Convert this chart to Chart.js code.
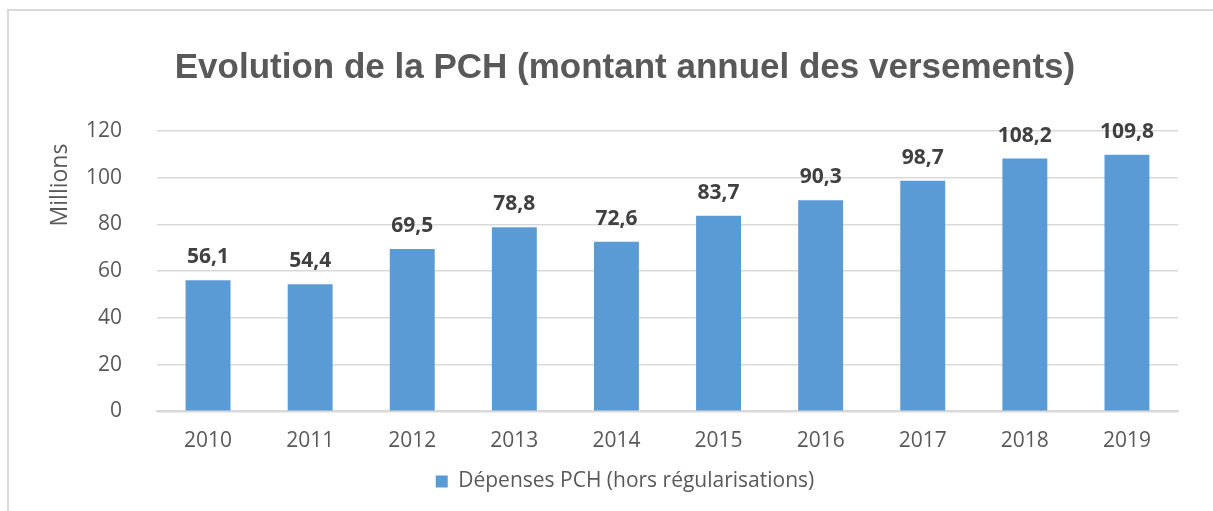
<!DOCTYPE html>
<html>
<head>
<meta charset="utf-8">
<script src="https://cdn.jsdelivr.net/npm/chart.js@4"></script>
<style>
  html, body { margin: 0; padding: 0; background: #fff; }
  #wrap { width: 1213px; height: 511px; }
</style>
</head>
<body>
<div id="wrap"><canvas id="graficoPCH" width="1213" height="511"></canvas></div>
<script>
const annees = ["2010", "2011", "2012", "2013", "2014", "2015", "2016", "2017", "2018", "2019"]
const depensesPCH = [56.1, 54.4, 69.5, 78.8, 72.6, 83.7, 90.3, 98.7, 108.2, 109.8]
const ticksY = [0, 20, 40, 60, 80, 100, 120]

const texteGris = "#595959"
const fontTexte = "'Open Sans', 'Liberation Sans', sans-serif"

// cadre gris autour du graphique
const cadre = {
    id: "cadre",
    beforeDraw(chart) {
        const ctx = chart.ctx
        ctx.save()
        ctx.fillStyle = "#fff"
        ctx.fillRect(0, 0, chart.width, chart.height)
        ctx.strokeStyle = "#d9d9d9"
        ctx.lineWidth = 2
        ctx.strokeRect(8, 10, chart.width + 20, chart.height + 20)
        ctx.restore()
    },
}

// valeurs au-dessus des barres + titre de l'axe Y (placé en haut comme dans Excel)
const etiquettes = {
    id: "etiquettes",
    afterDatasetsDraw(chart) {
        const ctx = chart.ctx
        const meta = chart.getDatasetMeta(0)
        ctx.save()
        ctx.font = "bold 21px " + fontTexte
        ctx.fillStyle = "#404040"
        ctx.textAlign = "center"
        ctx.textBaseline = "middle"
        meta.data.forEach((bar, i) => {
            const texte = depensesPCH[i].toFixed(1).replace(".", ",")
            ctx.fillText(texte, bar.x, bar.y - 23)
        })
        ctx.restore()

        const y = chart.scales.y
        ctx.save()
        ctx.translate(60, y.top + 54)
        ctx.rotate(-Math.PI / 2)
        ctx.font = "23px " + fontTexte
        ctx.fillStyle = texteGris
        ctx.textAlign = "center"
        ctx.textBaseline = "middle"
        ctx.fillText("Millions", 0, 0)
        ctx.restore()
    },
}

const dataGraficoPCH = {
    labels: annees,
    datasets: [
        {
            label: "Dépenses PCH (hors régularisations)",
            backgroundColor: "#5b9bd5",
            data: depensesPCH,
            barPercentage: 0.44,
            categoryPercentage: 1,
        },
    ],
};

const configGraficoPCH = {
    type: "bar",
    data: dataGraficoPCH,
    plugins: [cadre, etiquettes],
    options: {
        responsive: false,
        animation: false,
        layout: {
            padding: { left: 72, right: 35, top: 47, bottom: 9 },
        },
        plugins: {
            tooltip: { enabled: false },
            legend: {
                display: true,
                position: "bottom",
                labels: {
                    boxWidth: 12,
                    boxHeight: 12,
                    padding: 0.5,
                    color: texteGris,
                    font: { size: 21, family: fontTexte },
                },
            },
            title: {
                display: true,
                text: "Evolution de la PCH (montant annuel des versements)",
                color: texteGris,
                padding: { top: 0, bottom: 42 },
                font: {
                    weight: "bold",
                    size: 35,
                    family: "'Liberation Sans', Arial, sans-serif",
                },
            },
        },
        scales: {
            x: {
                grid: { display: false, drawTicks: false },
                border: { color: "#d9d9d9", width: 2 },
                ticks: {
                    color: texteGris,
                    padding: 17,
                    font: { size: 21, family: fontTexte },
                },
            },
            y: {
                min: 0,
                max: 120,
                afterBuildTicks: axis => {
                    axis.ticks = ticksY.map(v => ({ value: v }))
                },
                afterFit: axis => {
                    axis.width = 85
                },
                grid: { color: "#d9d9d9", lineWidth: 1.5, drawTicks: false },
                border: { display: false },
                ticks: {
                    color: texteGris,
                    padding: 35,
                    font: { size: 21, family: fontTexte },
                },
            },
        },
    },
};
const chart1 = new Chart(
    document.getElementById("graficoPCH"),
    configGraficoPCH
);
</script>
</body>
</html>
